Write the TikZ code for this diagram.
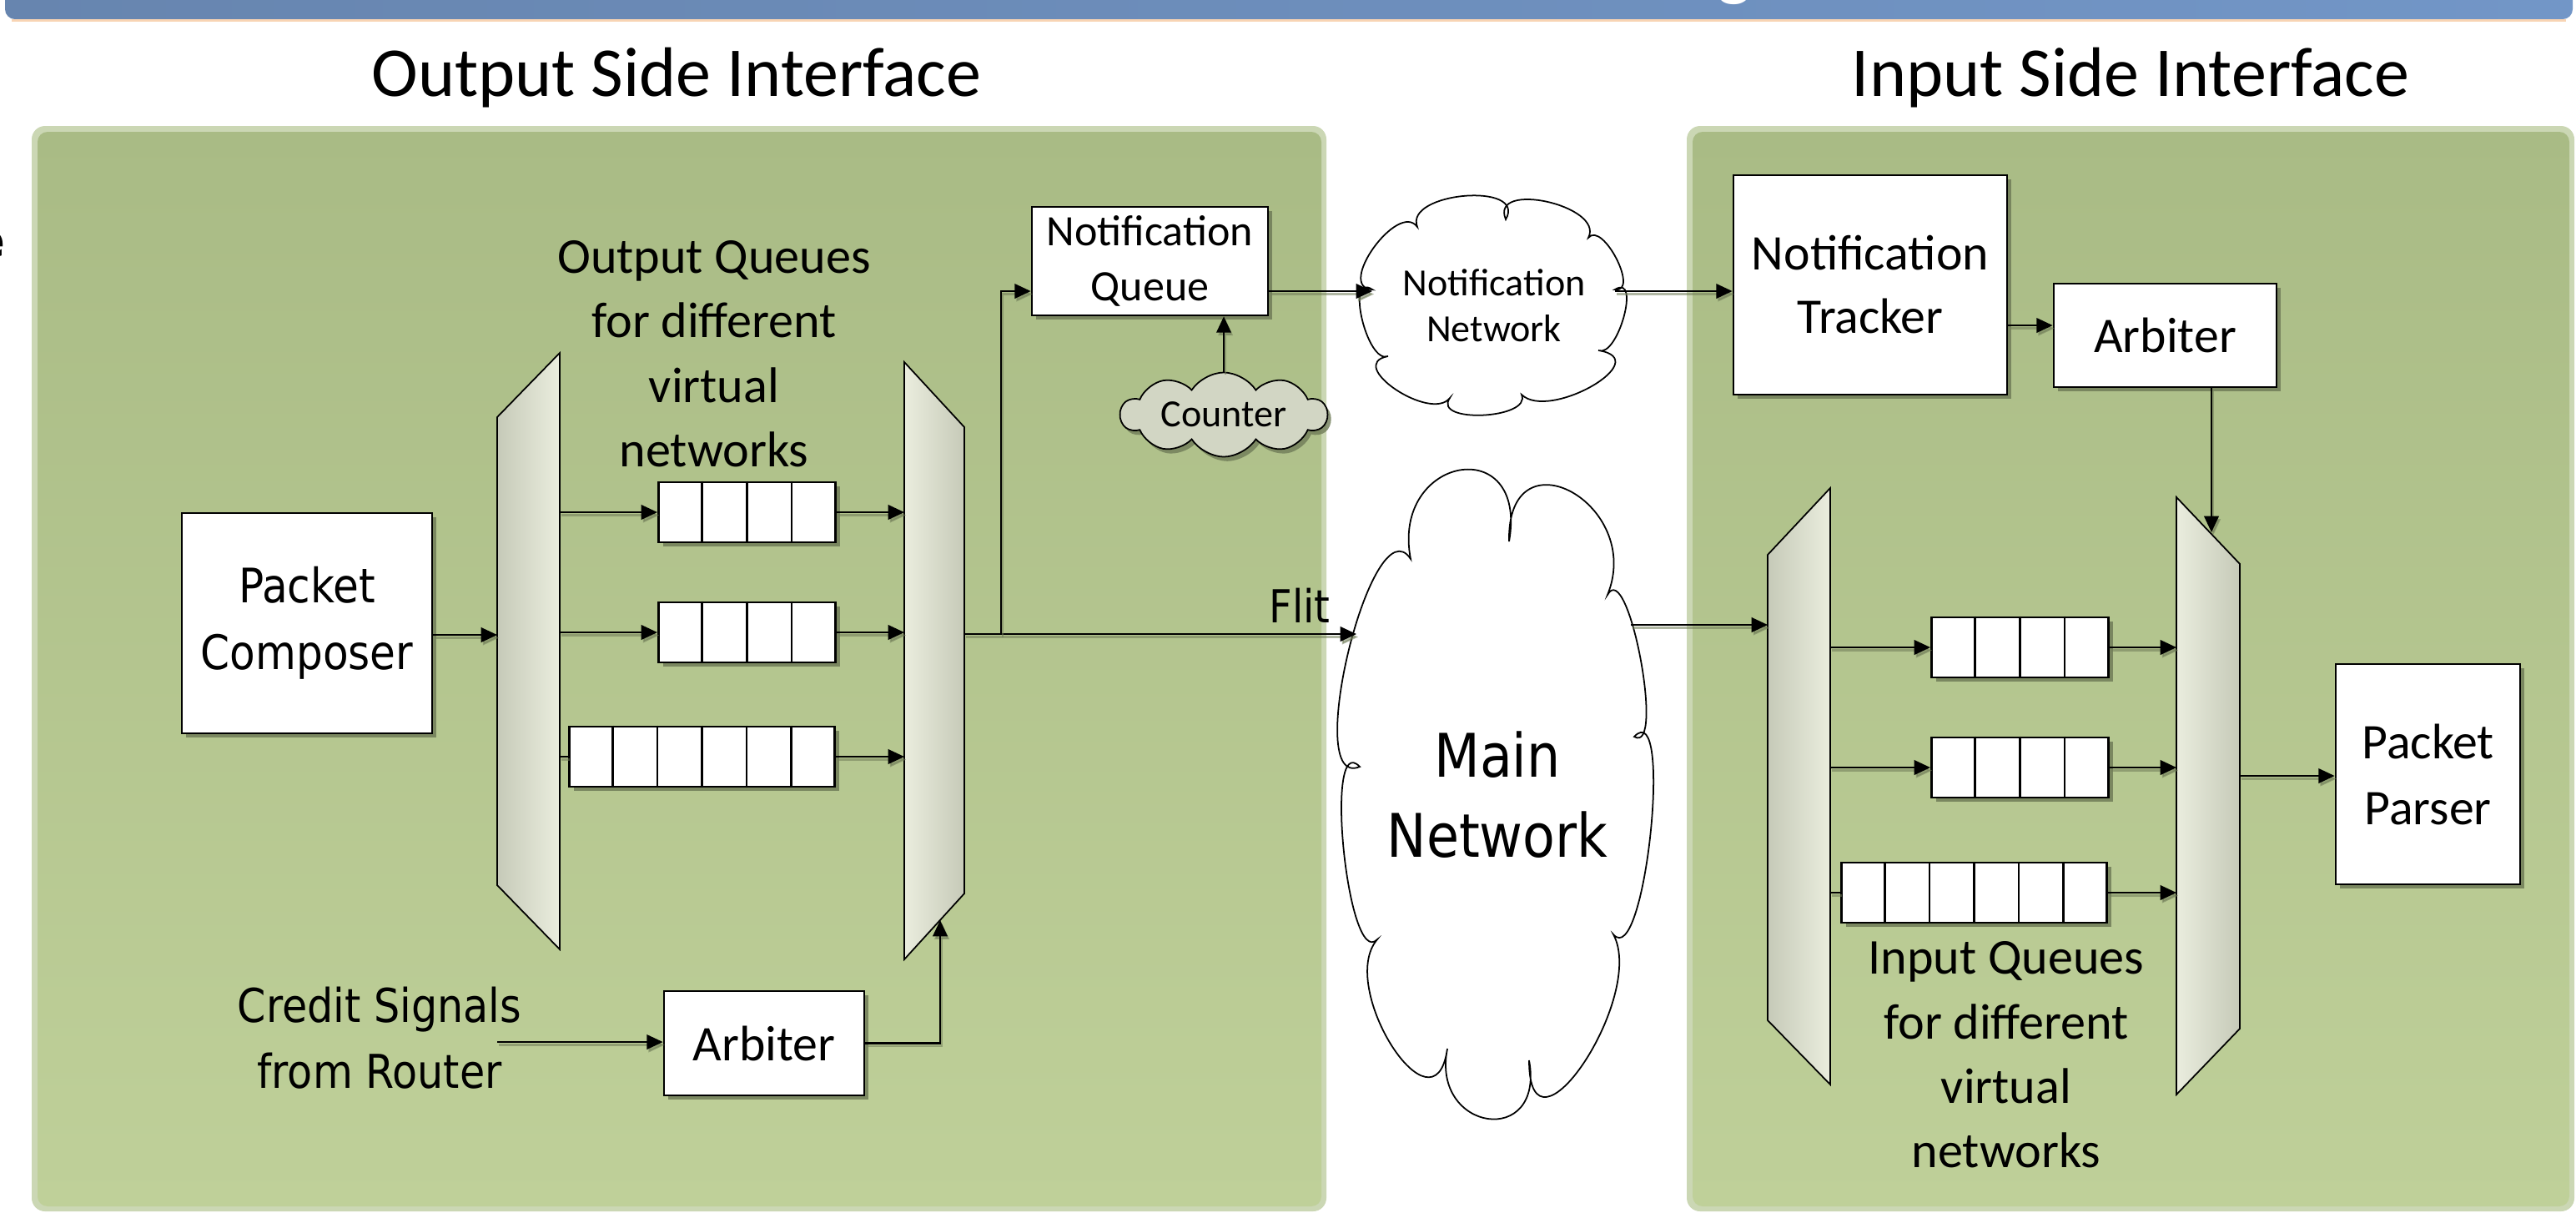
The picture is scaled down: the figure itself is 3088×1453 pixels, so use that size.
\documentclass[tikz,border=0pt]{standalone}
\usepackage{fontspec}
\setmainfont{Carlito}
\newfontfamily\dvs[FakeStretch=0.88]{DejaVu Sans}
\usetikzlibrary{arrows.meta, shapes.symbols, shadows, fit, calc}

\definecolor{panelTop}{RGB}{169,187,133}
\definecolor{panelBot}{RGB}{191,208,153}
\definecolor{panelRim}{RGB}{203,215,180}
\definecolor{muxDark}{RGB}{198,202,184}
\definecolor{muxLight}{RGB}{234,237,222}
\definecolor{shade}{RGB}{112,124,88}
\definecolor{counterFill}{RGB}{210,214,196}
\definecolor{bannerL}{RGB}{103,133,175}
\definecolor{bannerR}{RGB}{114,150,199}
\definecolor{peach}{RGB}{248,212,180}

\newcommand\fsz[2]{\fontsize{#1pt}{#2pt}\selectfont}

% queue of equal cells: name, left x, centre y, number of cells
\newcommand\fifo[4]{%
  \node[qbox, minimum width={#4*0.53cm}, anchor=west] (#1) at (#2,#3) {};
  \pgfmathtruncatemacro\qn{#4-1}%
  \foreach \k in {1,...,\qn}
    \draw[line width=0.7pt] ($(#1.north west)!\k/#4!(#1.north east)$) -- ($(#1.south west)!\k/#4!(#1.south east)$);
}

\tikzset{
  box/.style={draw, line width=0.75pt, fill=white, inner sep=0pt, align=center,
    drop shadow={shadow xshift=1.5pt, shadow yshift=-1.5pt, fill=shade, opacity=0.85}},
  qbox/.style={draw, line width=0.75pt, fill=white, inner sep=0pt, minimum height=0.72cm,
    drop shadow={shadow xshift=1.5pt, shadow yshift=-1.5pt, fill=shade, opacity=0.85}},
  muxshape/.style={draw, line width=0.5pt},
  hold/.style={inner sep=0pt, outer sep=0pt},
  link/.style={line width=0.6pt,
    preaction={draw=shade, opacity=0.55, line width=0.6pt, transform canvas={xshift=0.6pt, yshift=-1pt}}},
  arw/.style={link, -{Triangle[length=5.5pt, width=5pt]}},
  cloudline/.style={draw, line width=0.5pt, fill=white},
  % one puff of a cloud outline, bulging through the given point
  lobe/.style={to path={.. controls ($0.533*(\tikztostart)+1.333*(#1)-0.867*(\tikztotarget)$)
      and ($0.533*(\tikztotarget)+1.333*(#1)-0.867*(\tikztostart)$) .. (\tikztotarget)}},
  puff/.style={cloud, cloud ignores aspect, draw, line width=0.5pt, inner sep=0pt, align=center},
}

\begin{document}
\begin{tikzpicture}[x=0.01cm, y=-0.01cm]
\useasboundingbox (0,0) rectangle (3088,1453);
\fill[white] (0,0) rectangle (3088,1453);

% header band
\shade[left color=bannerL, right color=bannerR, rounded corners=0.12cm] (6,-30) rectangle (3084,23);
\draw[peach, line width=0.9pt] (14,24.5) -- (3076,24.5);
\node[white, anchor=base, inner sep=0pt, font=\fsz{25}{30}] (hd) at (2079,-10) {g};
\node[anchor=east, inner sep=0pt, font=\dvs\bfseries\fsz{16}{19}] (lm) at (7,293) {e};

% panels
\fill[panelRim, rounded corners=0.16cm] (38,151) rectangle (1590,1452);
\shade[top color=panelTop, bottom color=panelBot, rounded corners=0.12cm] (45,158) rectangle (1584,1446);
\fill[panelRim, rounded corners=0.16cm] (2022,151) rectangle (3086,1452);
\shade[top color=panelTop, bottom color=panelBot, rounded corners=0.12cm] (2029,158) rectangle (3080,1446);

% headings
\node[anchor=base, font=\fsz{23.9}{28}] (tOut) at (811,115) {Output Side Interface};
\node[anchor=base, font=\fsz{23.9}{28}] (tIn) at (2554,115) {Input Side Interface};

% ---------- output side ----------
\node[box, minimum width=3cm, minimum height=2.64cm, font=\dvs\fsz{16.2}{22.8}] (pc) at (368,747) {Packet\\Composer};
\node[box, minimum width=2.83cm, minimum height=1.3cm, font=\fsz{14.8}{18.8}] (nq) at (1378.5,313) {Notification\\Queue};
\node[box, minimum width=2.4cm, minimum height=1.25cm, font=\fsz{17}{21}] (arbA) at (916,1250.5) {Arbiter};

\shade[muxshape, left color=muxDark, right color=muxLight] (596,500) -- (671,423) -- (671,1138) -- (596,1061) -- cycle;
\node[hold, fit={(596,423)(671,1138)}] (dmA) {};
\shade[muxshape, left color=muxLight, right color=muxDark] (1084,434) -- (1156,512) -- (1156,1071) -- (1084,1150) -- cycle;
\node[hold, fit={(1084,434)(1156,1150)}] (mxA) {};

\fifo{qA1}{788}{614}{4}
\fifo{qA2}{788}{758}{4}
\fifo{qA3}{681}{907}{6}

\node[anchor=base, align=center, font=\fsz{17.1}{21.9}] (oqlab) at (856,559) {Output Queues\\for different\\virtual\\networks};
\node[anchor=base, align=center, font=\dvs\fsz{15.9}{22.2}] (credit) at (455,1304) {Credit Signals\\from Router};
\node[anchor=base, font=\dvs\fsz{15.5}{18}] (flit) at (1558,746) {Flit};

\node[puff, cloud puffs=10, cloud puff arc=115, fill=counterFill, minimum width=2.47cm, minimum height=1.01cm,
  font=\fsz{13.1}{15},
  drop shadow={shadow xshift=1.2pt, shadow yshift=-1.5pt, fill=shade, opacity=0.8}] (ctr) at (1467,497) {Counter};

% ---------- networks ----------
\draw[cloudline] (1699,272) to[lobe={1757,235}] (1805,263) to[lobe={1856,242}] (1904,285)
  to[lobe={1939,310}] (1936,347) to[lobe={1948,380}] (1916,420) to[lobe={1910,463}] (1824,473)
  to[lobe={1779,498}] (1738,477) to[lobe={1674,467}] (1664,427) to[lobe={1634,383}] (1645,347)
  to[lobe={1648,297}] (1699,272) -- cycle;
\node[align=center, font=\fsz{13.1}{15.6}] (nnet) at (1791,366) {Notification\\Network};

\draw[cloudline] (1691,670) to[lobe={1751,564}] (1809,649) to[lobe={1885,590}] (1927,713)
  to[lobe={1968,790}] (1959,883) to[lobe={1980,1000}] (1934,1120) to[lobe={1900,1275}] (1833,1271)
  to[lobe={1785,1342}] (1735,1257) to[lobe={1670,1255}] (1651,1126) to[lobe={1612,1020}] (1630,919)
  to[lobe={1618,780}] (1691,670) -- cycle;
\node[align=center, font=\dvs\fsz{20.5}{27.3}] (main) at (1795,953) {Main\\Network};

% ---------- input side ----------
\node[box, minimum width=3.28cm, minimum height=2.63cm, font=\fsz{17}{21.6}] (ntrk) at (2242,341.5) {Notification\\Tracker};
\node[box, minimum width=2.67cm, minimum height=1.24cm, font=\fsz{17}{21}] (arbB) at (2595.5,402) {Arbiter};
\node[box, minimum width=2.21cm, minimum height=2.64cm, font=\fsz{17}{22.5}] (pp) at (2910.5,928) {Packet\\Parser};

\shade[muxshape, left color=muxDark, right color=muxLight] (2119,665) -- (2194,585) -- (2194,1300) -- (2119,1223) -- cycle;
\node[hold, fit={(2119,585)(2194,1300)}] (dmB) {};
\shade[muxshape, left color=muxLight, right color=muxDark] (2609,596) -- (2685,676) -- (2685,1233) -- (2609,1312) -- cycle;
\node[hold, fit={(2609,596)(2685,1312)}] (mxB) {};

\fifo{qB1}{2314}{776}{4}
\fifo{qB2}{2314}{920}{4}
\fifo{qB3}{2206}{1070}{6}

\node[anchor=base, align=center, font=\fsz{17.1}{21.9}] (iqlab) at (2405,1399) {Input Queues\\for different\\virtual\\networks};

% ---------- connection rows and taps ----------
\coordinate (rowPC) at (0,761);
\coordinate (rowF) at (0,760);
\coordinate (rowN) at (0,349);
\coordinate (rowT) at (0,390);
\coordinate (rowM) at (0,749);
\coordinate (rowP) at (0,930);
\coordinate (br) at (1200,760);
\coordinate (flitEnd) at (1626,760);
\coordinate (mainOut) at (1955,749);
\coordinate (nnIn) at (1645,349);
\coordinate (nnOut) at (1936,349);
\coordinate (creditIn) at (596,1249);
\coordinate (mxAin) at (1127,1103);
\coordinate (mxBin) at (2651,638);

% ---------- connectors ----------
\draw[arw] (rowPC -| pc.east) -- (rowPC -| dmA.west);
\draw[arw] (qA1.west -| dmA.east) -- (qA1.west);
\draw[arw] (qA2.west -| dmA.east) -- (qA2.west);
\draw[link] (qA3.west -| dmA.east) -- (qA3.west);
\draw[arw] (qA1.east) -- (qA1.east -| mxA.west);
\draw[arw] (qA2.east) -- (qA2.east -| mxA.west);
\draw[arw] (qA3.east) -- (qA3.east -| mxA.west);
\draw[arw] (rowF -| mxA.east) -- (flitEnd);
\draw[arw] (br) |- (rowN -| nq.west);
\draw[arw] (rowN -| nq.east) -- (nnIn);
\draw[arw] (ctr.north) -- (ctr.north |- nq.south);
\draw[arw] (creditIn) -- (creditIn -| arbA.west);
\draw[arw] (arbA.east) -| (mxAin);

\draw[arw] (nnOut) -- (rowN -| ntrk.west);
\draw[arw] (rowT -| ntrk.east) -- (rowT -| arbB.west);
\draw[arw] (mxBin |- arbB.south) -- (mxBin);
\draw[arw] (mainOut) -- (rowM -| dmB.west);
\draw[arw] (qB1.west -| dmB.east) -- (qB1.west);
\draw[arw] (qB2.west -| dmB.east) -- (qB2.west);
\draw[link] (qB3.west -| dmB.east) -- (qB3.west);
\draw[arw] (qB1.east) -- (qB1.east -| mxB.west);
\draw[arw] (qB2.east) -- (qB2.east -| mxB.west);
\draw[arw] (qB3.east) -- (qB3.east -| mxB.west);
\draw[arw] (rowP -| mxB.east) -- (rowP -| pp.west);
\end{tikzpicture}
\end{document}
